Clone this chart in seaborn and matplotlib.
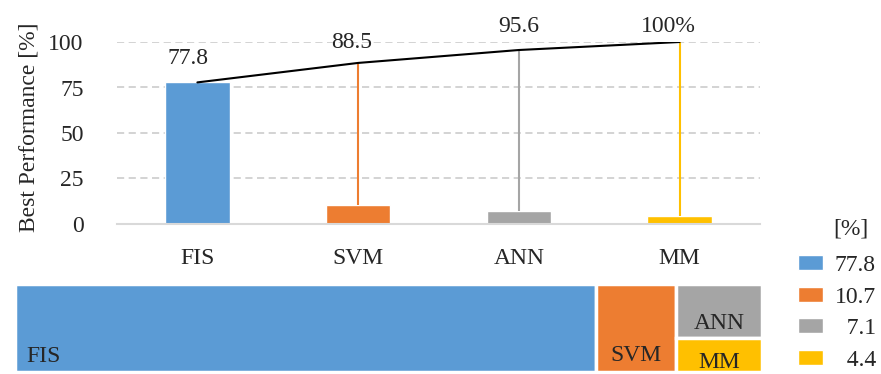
import matplotlib
matplotlib.use("Agg")
import matplotlib.pyplot as plt
from matplotlib.patches import Patch
import pandas as pd
import seaborn as sns

# data
methods = ["FIS", "SVM", "ANN", "MM"]
share = [77.8, 10.7, 7.1, 4.4]
cumulative = [77.8, 88.5, 95.6, 100.0]
cum_labels = ["77.8", "88.5", "95.6", "100%"]
yticks = [0, 25, 50, 75, 100]

colors = ["#5B9BD5", "#ED7D31", "#A5A5A5", "#FFC000"]
label_offsets = [(-7, 13), (-5, 11), (0, 13), (-8, 7)]  # points
FS = 17

sns.set_style("white")
plt.rcParams["font.family"] = ["Liberation Serif", "DejaVu Serif"]

fig = plt.figure(figsize=(8.81, 3.74), dpi=100)

# --- top: bars + cumulative line ---
ax = fig.add_axes([117 / 881, 1 - 224 / 374, 643 / 881, 182 / 374])
df = pd.DataFrame({"method": methods, "share": share})
sns.barplot(data=df, x="method", y="share", hue="method", palette=colors,
            width=0.4, saturation=1, errorbar=None, legend=False, ax=ax, zorder=3)

ax.vlines(range(1, len(methods)), share[1:], cumulative[1:],
          colors=colors[1:], lw=1.5, zorder=3)
ax.plot(range(len(methods)), cumulative, color="black", lw=1.5, zorder=4)

for i, (c, lbl) in enumerate(zip(cumulative, cum_labels)):
    ax.annotate(lbl, (i, c), xytext=label_offsets[i], textcoords="offset points",
                ha="center", va="baseline", fontsize=FS, annotation_clip=False)

ax.set_xlim(-0.5, len(methods) - 0.5)
ax.set_ylim(0, 100)
ax.set_yticks(yticks)
ax.yaxis.grid(True, color="#CCCCCC", lw=1.2, ls=(0, (4.3, 2.7)))
ax.set_axisbelow(True)
for s in ["left", "right", "top"]:
    ax.spines[s].set_visible(False)
ax.spines["bottom"].set_color("#D9D9D9")
ax.spines["bottom"].set_linewidth(1.5)
ax.spines["bottom"].set_zorder(5)
ax.tick_params(axis="y", length=0, labelsize=FS, pad=24)
ax.tick_params(axis="x", length=0, labelsize=FS, pad=17)
ax.set_xlabel("")
ax.set_ylabel("Best Performance [%]", fontsize=FS)
ax.yaxis.set_label_coords(-0.121, 0.533)

# --- bottom: treemap ---
tax = fig.add_axes([15 / 881, 2 / 374, 747 / 881, 88 / 374])
small = share[2] + share[3]
mm_frac = share[3] / small
lefts = [0, share[0], share[0] + share[1], share[0] + share[1]]
widths = [share[0], share[1], small, small]
bottoms = [0, 0, mm_frac, 0]
heights = [1, 1, 1 - mm_frac, mm_frac]
tax.bar(lefts, heights, width=widths, bottom=bottoms, align="edge",
        color=colors, edgecolor="white", lw=2.5)
tax.set_xlim(0, 100)
tax.set_ylim(0, 1)
tax.axis("off")

tax.annotate(methods[0], (lefts[0], bottoms[0]), xytext=(8, 7),
             textcoords="offset points", ha="left", va="baseline", fontsize=FS)
text_pad = [None, 8, 7, 3]
for i in range(1, 4):
    tax.annotate(methods[i], (lefts[i] + widths[i] / 2, bottoms[i]),
                 xytext=(0, text_pad[i]), textcoords="offset points",
                 ha="center", va="baseline", fontsize=FS)

# --- legend ---
def pad_label(v):
    s = f"{v:.1f}"
    return "  " * (4 - len(s)) + s

handles = [Patch(facecolor=c) for c in colors]
fig.legend(handles, [pad_label(v) for v in share], loc="upper left",
           bbox_to_anchor=(798 / 881, 1 - 255 / 374), frameon=False,
           fontsize=FS, borderpad=0, borderaxespad=0, handlelength=1.06,
           handleheight=0.6, handletextpad=0.5, labelspacing=0.45)
fig.text(851 / 881, 1 - 229 / 374, "[%]", ha="center", va="center", fontsize=FS)

fig.savefig("out.png", dpi=100)
